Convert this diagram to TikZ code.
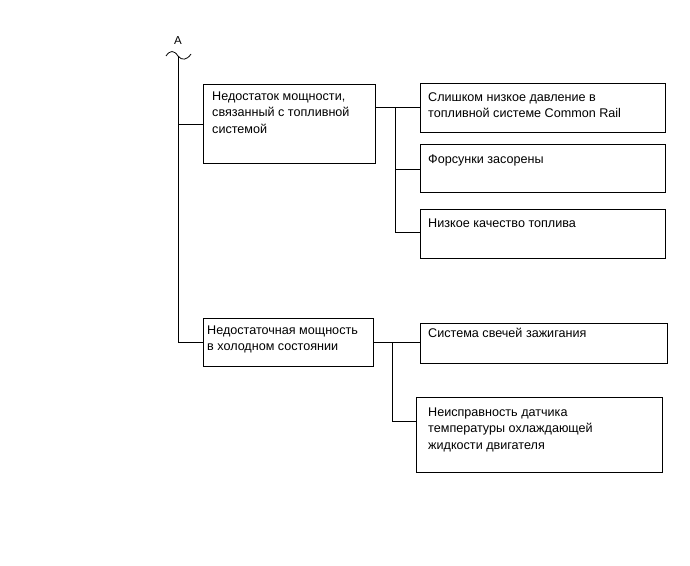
\documentclass[tikz,border=0pt]{standalone}
\usepackage{fontspec}
\setmainfont{Liberation Sans}
\usetikzlibrary{calc}
\begin{document}
\begin{tikzpicture}[x=1pt,y=-1pt,
  box/.style={draw,line width=0.8pt,rectangle,inner sep=0pt,anchor=north west},
  txt/.style={anchor=base west,inner sep=0pt,align=left,font=\fontsize{12.6}{16.5}\selectfont},
  conn/.style={line width=0.8pt}]
\useasboundingbox (0,0) rectangle (690,565);
% label A and break mark
\node[inner sep=0pt,anchor=base,font=\fontsize{11.5}{13}\selectfont] (lblA) at (178,44) {A};
\coordinate (top) at (178,56);
\draw[conn] (166,56) .. controls (170,50) and (174,50) .. (top) .. controls (182,61) and (187,60) .. (191,54);
% boxes (multi-line text: base anchor is the last line)
\node[box,minimum width=172,minimum height=79] (m1) at (203,84) {};
\node[txt] (m1t) at (212,133) {Недостаток мощности,\\связанный с топливной\\системой};
\node[box,minimum width=245,minimum height=49] (a1) at (420,83) {};
\node[txt] (a1t) at (428,117.5) {Слишком низкое давление в\\топливной системе Common Rail};
\node[box,minimum width=245,minimum height=48] (a2) at (420,144) {};
\node[txt] (a2t) at (428,163) {Форсунки засорены};
\node[box,minimum width=245,minimum height=49] (a3) at (420,209) {};
\node[txt] (a3t) at (428,227) {Низкое качество топлива};
\node[box,minimum width=170,minimum height=48] (m2) at (203,318) {};
\node[txt] (m2t) at (207,350.5) {Недостаточная мощность\\в холодном состоянии};
\node[box,minimum width=247,minimum height=40] (b1) at (420,323) {};
\node[txt] (b1t) at (428,337) {Система свечей зажигания};
\node[box,minimum width=246,minimum height=75] (b2) at (416,397) {};
\node[txt] (b2t) at (428,449) {Неисправность датчика\\температуры охлаждающей\\жидкости двигателя};
% spine
\coordinate (s1) at (178,124);
\coordinate (s2) at (178,342);
\draw[conn] (top) -- (s2) -- (m2.west |- s2);
\draw[conn] (s1) -- (m1.west |- s1);
% sub-tree 1
\coordinate (j1) at (395,107);
\draw[conn] (m1.east |- j1) -- (a1.west |- j1);
\draw[conn] (j1) -- (395,232) -- (a3.west |- 0,232);
\draw[conn] (395,169) -- (a2.west |- 0,169);
% sub-tree 2
\coordinate (j2) at (392,342);
\draw[conn] (m2.east |- j2) -- (b1.west |- j2);
\draw[conn] (j2) -- (392,421) -- (b2.west |- 0,421);
\end{tikzpicture}
\end{document}
